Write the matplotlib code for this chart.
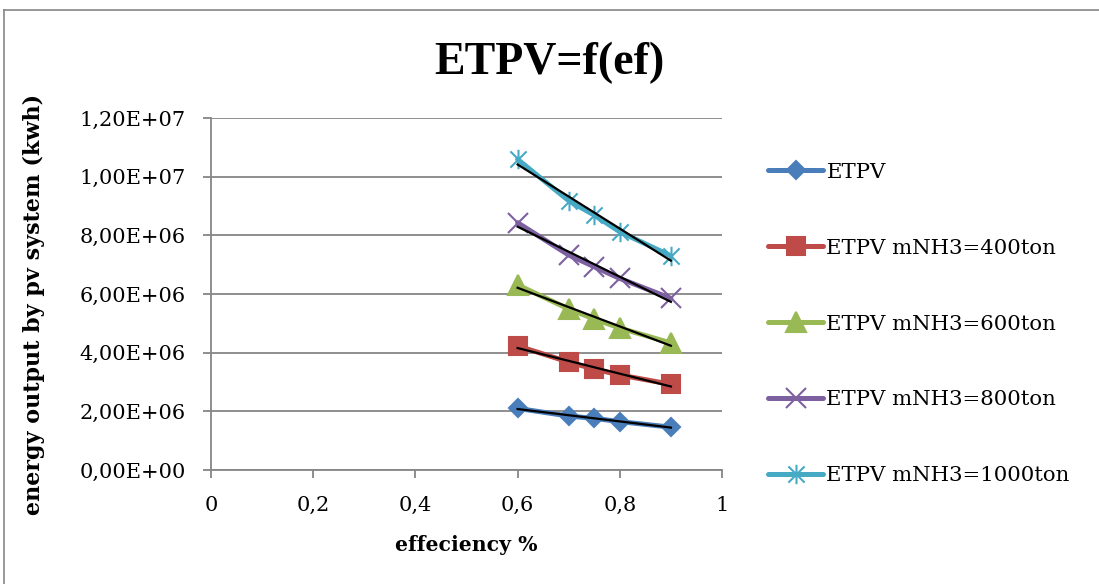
import numpy as np
import matplotlib
matplotlib.use("Agg")
import matplotlib.pyplot as plt
from matplotlib.path import Path
from matplotlib.lines import Line2D
from matplotlib.ticker import FuncFormatter, MultipleLocator

# efficiency values (x) and energy output per series (kwh)
ef = [0.6, 0.7, 0.75, 0.8, 0.9]
etpv = [2.10e6, 1.84e6, 1.76e6, 1.65e6, 1.46e6]
etpv_400 = [4.23e6, 3.68e6, 3.44e6, 3.24e6, 2.92e6]
etpv_600 = [6.31e6, 5.49e6, 5.15e6, 4.84e6, 4.33e6]
etpv_800 = [8.43e6, 7.33e6, 6.93e6, 6.53e6, 5.85e6]
etpv_1000 = [1.059e7, 9.18e6, 8.69e6, 8.12e6, 7.30e6]

labels = ["ETPV", "ETPV mNH3=400ton", "ETPV mNH3=600ton",
          "ETPV mNH3=800ton", "ETPV mNH3=1000ton"]
colors = ["#4A7EBB", "#BE4B48", "#98B954", "#7D60A0", "#46AAC5"]

# excel style "star": an x with a vertical bar
star = Path([(-1, -1), (1, 1), (-1, 1), (1, -1), (0, -1.2), (0, 1.2)],
            [Path.MOVETO, Path.LINETO, Path.MOVETO, Path.LINETO, Path.MOVETO, Path.LINETO])
markers = [("D", 8.7), ("s", 13.5), ("^", 15), ("x", 14), (star, 14)]

fig = plt.figure(figsize=(10.99, 5.84), dpi=100)
ax = fig.add_axes([211/1099, 1-470/584, (722-211)/1099, (470-118)/584])

series = [etpv, etpv_400, etpv_600, etpv_800, etpv_1000]
for y, lab, c, (m, ms) in zip(series, labels, colors, markers):
    ax.plot(ef, y, color=c, lw=3.6, marker=m, ms=ms, mfc=c, mec=c,
            mew=1.5, label=lab, zorder=3, solid_capstyle="round")

# linear trend lines
for y in series:
    a, b = np.polyfit(ef, y, 1)
    xs = np.array([ef[0], ef[-1]])
    ax.plot(xs, a*xs + b, color="black", lw=1.6, zorder=4)

ax.set_xlim(0, 1)
ax.set_ylim(0, 1.2e7)
ax.xaxis.set_major_locator(MultipleLocator(0.2))
ax.yaxis.set_major_locator(MultipleLocator(2e6))
ax.xaxis.set_major_formatter(FuncFormatter(lambda v, p: ("%g" % round(v, 2)).replace(".", ",")))
ax.yaxis.set_major_formatter(FuncFormatter(lambda v, p: ("%.2E" % v).replace(".", ",")))

gray = "#868686"
ax.grid(axis="y", color=gray, lw=1.3)
ax.set_axisbelow(True)
for s in ["top", "right"]:
    ax.spines[s].set_visible(False)
for s in ["left", "bottom"]:
    ax.spines[s].set_color(gray)
    ax.spines[s].set_linewidth(1.3)
ax.tick_params(axis="both", direction="out", length=6, width=1.3, color=gray,
               labelsize=15, labelcolor="black")
ax.tick_params(axis="y", pad=12)
ax.tick_params(axis="x", pad=13)
for t in ax.get_xticklabels() + ax.get_yticklabels():
    t.set_fontfamily("DejaVu Serif")

fig.text(0.5, 1-63/584, "ETPV=f(ef)", ha="center", va="center",
         fontsize=33, fontweight="bold", family="Liberation Serif")
fig.text(466/1099, 1-545/584, "effeciency %", ha="center", va="center",
         fontsize=14.7, fontweight="bold", family="DejaVu Serif")
fig.text(34/1099, 1-304/584, "energy output by pv system (kwh)", ha="center",
         va="center", rotation=90, fontsize=16, fontweight="bold", family="DejaVu Serif")

leg = fig.legend(loc="center left", bbox_to_anchor=(768/1099, 1-324/584),
                 frameon=False, borderpad=0, borderaxespad=0, handlelength=2.6,
                 handletextpad=0.15, labelspacing=2.68,
                 prop={"family": "DejaVu Serif", "size": 15.3})

# chart area border (left and top edges visible)
fig.add_artist(Line2D([4/1099, 4/1099], [0, 1-10/584], color=gray, lw=1.2))
fig.add_artist(Line2D([4/1099, 1], [1-10/584, 1-10/584], color=gray, lw=1.2))

fig.savefig("out.png", dpi=100)
